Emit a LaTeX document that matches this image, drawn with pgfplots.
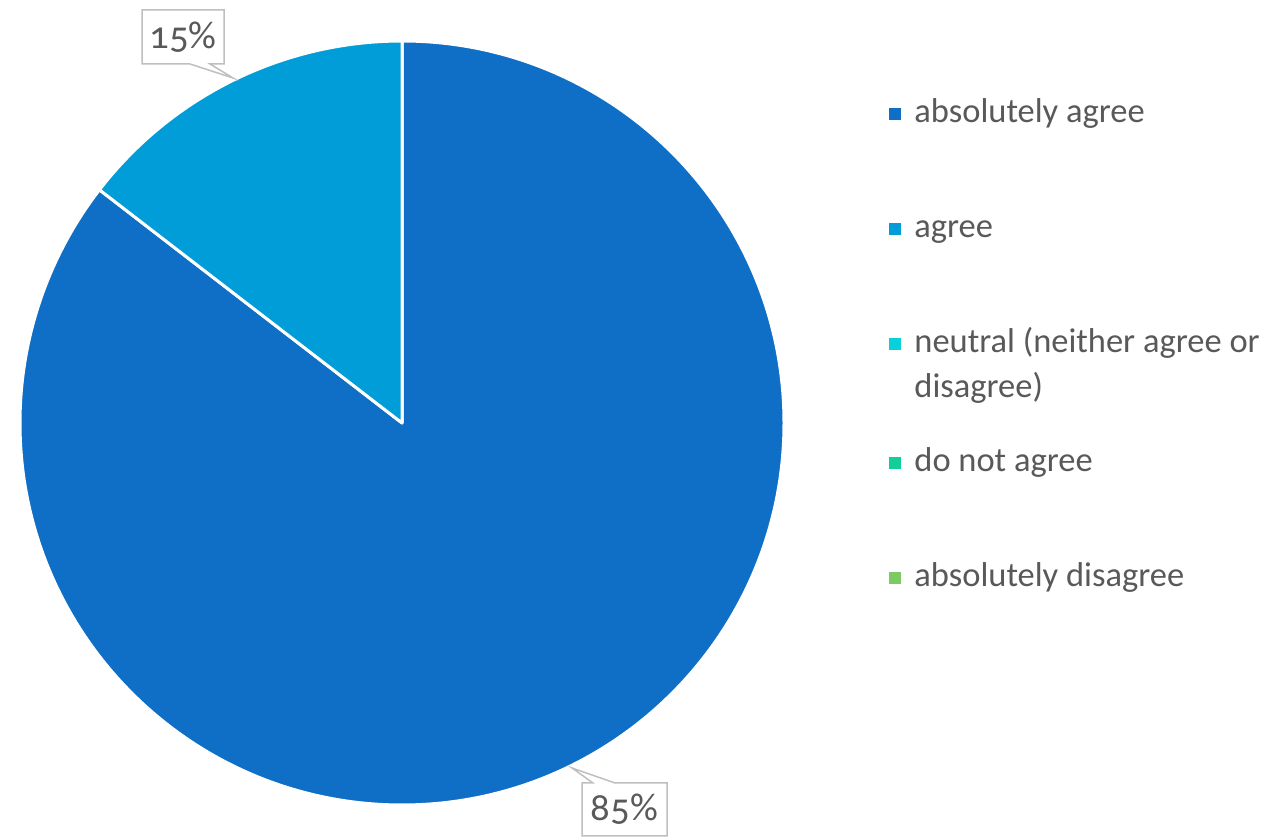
\documentclass[border=0pt]{standalone}
\usepackage{pgfplots}
\pgfplotsset{compat=1.18}
\usepackage{pgfplotstable}
\usepackage{fontspec}
\setmainfont{Carlito}
\newfontfamily\labelfont[Numbers=OldStyle]{Carlito}
\definecolor{c1}{HTML}{0F6FC6}
\definecolor{c2}{HTML}{009DD9}
\definecolor{c3}{HTML}{0BD0D9}
\definecolor{c4}{HTML}{10CF9B}
\definecolor{c5}{HTML}{7CCA62}
\definecolor{txt}{HTML}{595959}
\definecolor{bord}{HTML}{BFBFBF}
\pgfplotstableread{
value
85.45
14.55
0
0
0
}\piedata
\begin{document}
\begin{tikzpicture}
\pgfplotstablegetelem{0}{value}\of\piedata \let\va\pgfplotsretval
\pgfplotstablegetelem{1}{value}\of\piedata \let\vb\pgfplotsretval
\pgfmathsetmacro{\aA}{90-3.6*\va}
\pgfmathsetmacro{\aB}{\aA-3.6*\vb}
\begin{axis}[width=635.5bp, height=419bp, scale only axis,
  xmin=0, xmax=1271, ymin=0, ymax=838, hide axis, clip=false]
\path[use as bounding box] (axis cs:0,0) rectangle (axis cs:1271,838);
% slices
\fill[c1, draw=white, line width=1.5bp, line join=round] (axis cs:402,415) -- ++(90:191bp)
  arc[start angle=90, end angle=\aA, radius=191bp] -- cycle;
\fill[c2, draw=white, line width=1.5bp, line join=round] (axis cs:402,415) -- ++(\aA:191bp)
  arc[start angle=\aA, end angle=\aB, radius=191bp] -- cycle;
% data label 15%
\filldraw[fill=white, draw=bord, line width=0.75bp]
  (axis cs:142,828) -- (axis cs:224,828) -- (axis cs:224,774) -- (axis cs:210,774)
  -- (axis cs:233,760) -- (axis cs:190,774) -- (axis cs:142,774) -- cycle;
\node[text=txt, inner sep=0pt] at (axis cs:183,801)
  {\labelfont\fontsize{19.5}{19.5}\selectfont 15\%};
% data label 85%
\filldraw[fill=white, draw=bord, line width=0.75bp]
  (axis cs:582,55) -- (axis cs:593,55) -- (axis cs:572,70) -- (axis cs:615,55)
  -- (axis cs:667,55) -- (axis cs:667,2) -- (axis cs:582,2) -- cycle;
\node[text=txt, inner sep=0pt] at (axis cs:624.5,28.5)
  {\labelfont\fontsize{19.5}{19.5}\selectfont 85\%};
% legend
\fill[c1] (axis cs:889,730) rectangle (axis cs:901,718);
\fill[c2] (axis cs:889,615) rectangle (axis cs:901,603);
\fill[c3] (axis cs:889,500) rectangle (axis cs:901,488);
\fill[c4] (axis cs:889,381) rectangle (axis cs:901,369);
\fill[c5] (axis cs:889,266) rectangle (axis cs:901,254);
\begin{scope}[every node/.style={text=txt, inner sep=0pt, anchor=base west,
  font=\fontsize{17.3}{22.5}\selectfont}]
\node at (axis cs:914,715) {absolutely agree};
\node at (axis cs:914,600) {agree};
\node at (axis cs:914,485) {neutral (neither agree or};
\node at (axis cs:914,440) {disagree)};
\node at (axis cs:914,366) {do not agree};
\node at (axis cs:914,251) {absolutely disagree};
\end{scope}
\end{axis}
\end{tikzpicture}
\end{document}
